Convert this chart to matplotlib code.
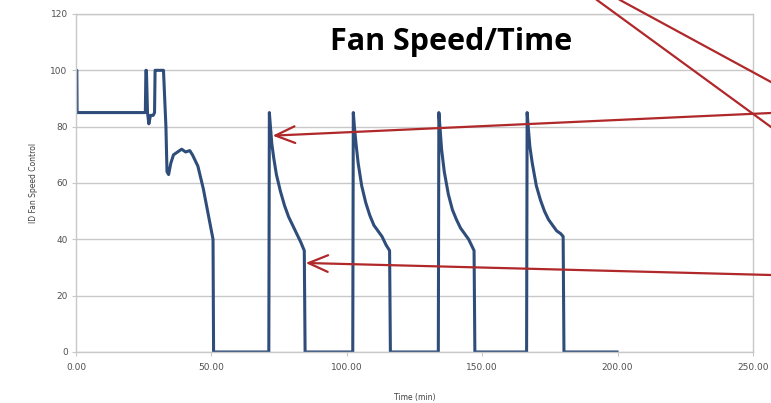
import matplotlib
matplotlib.use("Agg")

import matplotlib.pyplot as plt
from matplotlib.lines import Line2D

# fan speed trace: time (min), ID fan speed control
time_min = [0.0, 0.3, 0.4, 25.6, 25.8, 26.0, 26.4, 26.9, 27.5, 28.5, 29.0,
            29.2, 29.4, 30.0, 31.0, 32.3, 33.2, 33.6, 34.2, 35.0, 36.0, 37.5,
            39.0, 40.5, 42.0, 43.0, 44.0, 45.0, 46.0, 47.0, 48.0, 49.0, 50.0,
            50.6, 50.8,
            71.2, 71.4, 71.8, 72.3, 73.0, 74.0, 75.5, 77.0, 78.5, 80.0, 81.5,
            83.0, 84.3, 84.6,
            102.2, 102.4, 102.8, 103.4, 104.2, 105.5, 107.0, 108.5, 110.0,
            111.5, 113.0, 114.5, 115.8, 116.1,
            133.8, 134.0, 134.4, 135.0, 136.0, 137.5, 139.0, 140.5, 142.0,
            143.5, 145.0, 146.5, 147.0, 147.3,
            166.4, 166.6, 167.0, 167.6, 168.5, 170.0, 171.5, 173.0, 174.5,
            176.0, 177.5, 179.0, 179.9, 180.2,
            199.8]
fan_speed = [100, 100, 85, 85, 100, 100, 85, 81, 84, 84, 85,
             100, 100, 100, 100, 100, 80, 64, 63, 67, 70, 71,
             72, 71, 71.5, 70, 68, 66, 62, 58, 53, 48, 43,
             40, 0,
             0, 85, 80, 74, 69, 63, 57, 52, 48, 45, 42,
             39, 36, 0,
             0, 85, 80, 74, 67, 59, 53, 48.5, 45, 43, 41,
             38, 36, 0,
             0, 85, 80, 72, 64, 56, 50.5, 47, 44, 42, 40,
             37, 36, 0,
             0, 85, 80, 73, 67, 59, 54, 50, 47, 45, 43,
             42, 41, 0,
             0]

x_ticks = [0, 50, 100, 150, 200, 250]
y_ticks = [0, 20, 40, 60, 80, 100, 120]

LINE_BLUE = "#2f4d7a"
ARROW_RED = "#b0282a"
GRID_GRAY = "#c8c8c8"

fig = plt.figure(figsize=(7.71, 4.03), dpi=100)
ax = fig.add_axes([0.0986, 0.1266, 0.878, 0.8387])

ax.plot(time_min, fan_speed, color=LINE_BLUE, lw=2.2, solid_joinstyle="round")

ax.set_xlim(0, 250)
ax.set_ylim(0, 120)
ax.set_xticks(x_ticks)
ax.set_xticklabels([f"{v:.2f}" for v in x_ticks])
ax.set_yticks(y_ticks)
ax.yaxis.grid(True, color=GRID_GRAY, lw=1.0)
ax.set_axisbelow(True)
for s in ax.spines.values():
    s.set_color(GRID_GRAY)
    s.set_linewidth(1.0)
ax.tick_params(axis="both", labelsize=6.5, colors="#505050", length=3,
               width=0.8)
ax.tick_params(axis="x", pad=5)
ax.tick_params(axis="y", pad=3)
ax.tick_params(axis="both", color=GRID_GRAY)

ax.set_xlabel("Time (min)", fontsize=5.5, color="#404040", labelpad=15)
ax.set_ylabel("ID Fan Speed Control", fontsize=5.5, color="#404040", labelpad=9)

fig.text(0.585, 0.895, "Fan Speed/Time", fontsize=22, fontweight="bold",
         family=["Open Sans", "DejaVu Sans"], ha="center", va="center")

# red callout arrows pointing at the peak and the drop-off of the first cycle
arrow_kw = dict(arrowstyle="->,head_length=1.4,head_width=0.6",
                color=ARROW_RED, lw=1.6, shrinkA=0, shrinkB=0)
ax.annotate("", xy=(72.6, 76.8), xycoords="data",
            xytext=(1.0, 1 - 113 / 403), textcoords="figure fraction",
            arrowprops=arrow_kw, annotation_clip=False)
ax.annotate("", xy=(84.8, 31.6), xycoords="data",
            xytext=(1.0, 1 - 275 / 403), textcoords="figure fraction",
            arrowprops=arrow_kw, annotation_clip=False)

# two more callout lines coming in from the top edge
for x0, y1 in [(597 / 771, 1 - 127 / 403), (620 / 771, 1 - 82 / 403)]:
    fig.add_artist(Line2D([x0, 1.0], [1.0, y1], transform=fig.transFigure,
                          color=ARROW_RED, lw=1.6))

fig.savefig("out.png", dpi=100)
